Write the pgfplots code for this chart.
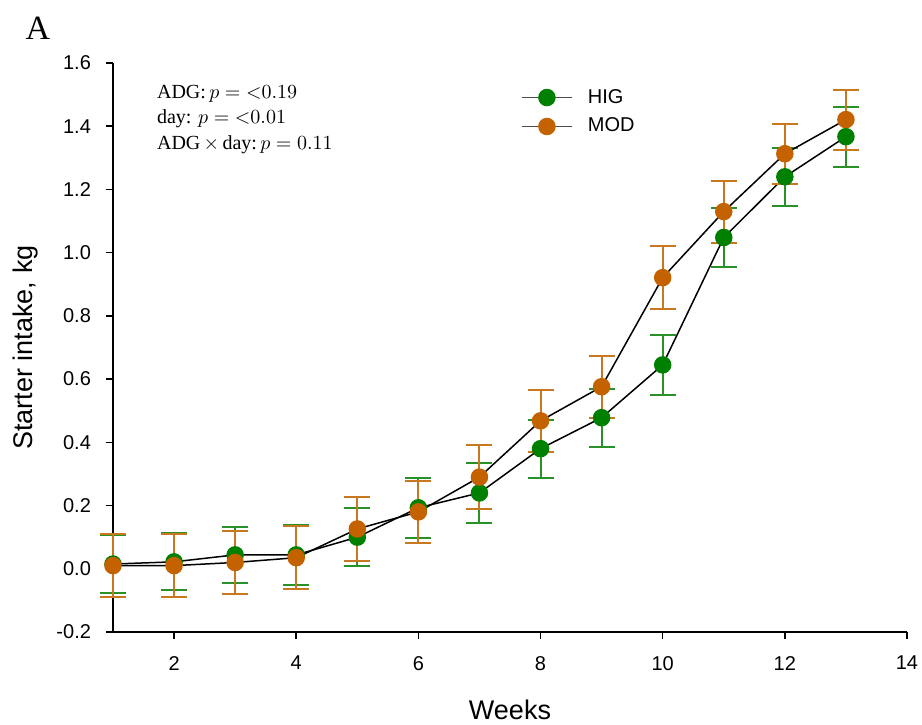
\documentclass[border=0pt]{standalone}
\usepackage{pgfplots}
\pgfplotsset{compat=1.18}
\usepackage{pgfplotstable}
\usepackage{fontspec}
\setmainfont{Liberation Sans}
\newfontfamily\seriffont{Liberation Serif}
\definecolor{higc}{RGB}{0,128,0}
\definecolor{higeb}{RGB}{40,145,40}
\definecolor{modc}{RGB}{196,98,0}
\definecolor{modeb}{RGB}{200,120,30}
\pgfplotstableread{
w HIG HIGe MOD MODe
1 0.015 0.093 0.010 0.100
2 0.022 0.090 0.010 0.100
3 0.044 0.088 0.020 0.100
4 0.044 0.094 0.035 0.100
5 0.100 0.092 0.126 0.100
6 0.193 0.095 0.180 0.098
7 0.240 0.094 0.290 0.100
8 0.380 0.092 0.468 0.098
9 0.478 0.092 0.576 0.098
10 0.645 0.095 0.921 0.100
11 1.048 0.092 1.130 0.098
12 1.240 0.092 1.313 0.095
13 1.367 0.095 1.421 0.095
}\datatable
\begin{document}
\begin{tikzpicture}
\useasboundingbox (-56.5pt,-46pt) rectangle (404.5pt,316pt);
\begin{axis}[
  at={(0,0)}, anchor=south west,
  scale only axis, width=397pt, height=284.5pt,
  xmin=1, xmax=14, ymin=-0.2, ymax=1.6,
  xtick={2,4,...,14},
  ytick={-0.2,0,...,1.6},
  axis x line*=bottom, axis y line*=left,
  axis line style={line width=0.75pt, -},
  tick align=outside, major tick length=3.5pt,
  tick style={line width=0.75pt, black},
  /pgf/number format/assume math mode=true,
  yticklabel style={xshift=-4pt, /pgf/number format/.cd, fixed, fixed zerofill, precision=1},
  xticklabel style={yshift=-5pt},
  ticklabel style={font=\fontsize{10}{11}\selectfont},
  xlabel={Weeks}, ylabel={Starter intake, kg},
  label style={font=\fontsize{13.5}{15}\selectfont},
  xlabel style={at={(axis description cs:0.5,-0.137)}, anchor=center},
  ylabel style={at={(axis description cs:-0.1108,0.5)}, anchor=center},
  legend style={draw=none, fill=none, at={(rel axis cs:0.506,0.969)}, anchor=north west,
    font=\fontsize{10}{11}\selectfont, row sep=2pt},
  legend image code/.code={\path[draw=none,fill=none] (0pt,-1pt) rectangle (31pt,1pt); \draw[#1, black!70, mark repeat=2, mark phase=2] plot coordinates {(0pt,0pt) (12.5pt,0pt) (25pt,0pt)};},
  legend cell align=left,
  clip=false,
]
\addplot[black, line width=0.75pt, mark=*, mark size=4pt,
  mark options={draw=higc, fill=higc},
  error bars/.cd, y dir=both, y explicit,
  error bar style={higeb, line width=1pt},
  error mark options={higeb, line width=1pt, mark size=6.5pt, rotate=90}]
  table[x=w, y=HIG, y error=HIGe] {\datatable};
\addlegendentry{HIG}
\addplot[black, line width=0.75pt, mark=*, mark size=4pt,
  mark options={draw=modc, fill=modc},
  error bars/.cd, y dir=both, y explicit,
  error bar style={modeb, line width=1pt},
  error mark options={modeb, line width=1pt, mark size=6.5pt, rotate=90}]
  table[x=w, y=MOD, y error=MODe] {\datatable};
\addlegendentry{MOD}
\node[anchor=north west, font=\seriffont\fontsize{10}{12.75}\selectfont, align=left, inner sep=0pt]
  at (rel axis cs:0.055,0.962) {ADG:\,$p\mathrel{=}{<}0.19$\\day: $p = {<}0.01$\\ADG\,$\times$\,day:\,$p = 0.11$};
\end{axis}
\node[font=\seriffont\fontsize{17}{18}\selectfont] at (-37.5pt,302pt) {A};
\end{tikzpicture}
\end{document}
